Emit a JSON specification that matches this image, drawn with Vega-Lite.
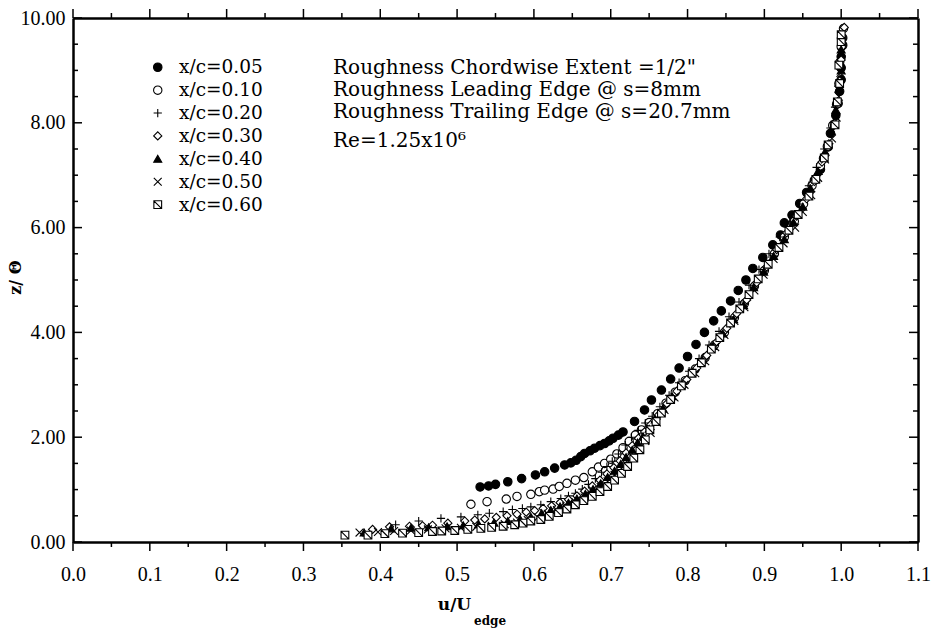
{
  "$schema": "https://vega.github.io/schema/vega-lite/v6.json",
  "autosize": {"type": "none"},
  "padding": {"left": 73, "top": 18, "right": 17, "bottom": 87},
  "width": 845,
  "height": 524,
  "config": {"view": {"stroke": null}, "font": "DejaVu Serif"},
  "datasets": {
    "xmaj": [{"v":0},{"v":0.1},{"v":0.2},{"v":0.3},{"v":0.4},{"v":0.5},{"v":0.6},{"v":0.7},{"v":0.8},{"v":0.9},{"v":1.0},{"v":1.1}],
    "xmin": [{"v":0.05},{"v":0.15},{"v":0.25},{"v":0.35},{"v":0.45},{"v":0.55},{"v":0.65},{"v":0.75},{"v":0.85},{"v":0.95},{"v":1.05}],
    "ymaj": [{"v":0},{"v":2},{"v":4},{"v":6},{"v":8},{"v":10}],
    "ymin": [{"v":0.5},{"v":1},{"v":1.5},{"v":2.5},{"v":3},{"v":3.5},{"v":4.5},{"v":5},{"v":5.5},{"v":6.5},{"v":7},{"v":7.5},{"v":8.5},{"v":9},{"v":9.5}],
    "pts": [
      {"s":"x/c=0.05","u":0.530,"z":1.05},{"s":"x/c=0.05","u":0.541,"z":1.07},{"s":"x/c=0.05","u":0.550,"z":1.10},{"s":"x/c=0.05","u":0.566,"z":1.15},{"s":"x/c=0.05","u":0.584,"z":1.21},{"s":"x/c=0.05","u":0.602,"z":1.28},{"s":"x/c=0.05","u":0.614,"z":1.34},{"s":"x/c=0.05","u":0.627,"z":1.41},{"s":"x/c=0.05","u":0.640,"z":1.47},{"s":"x/c=0.05","u":0.648,"z":1.51},{"s":"x/c=0.05","u":0.655,"z":1.56},{"s":"x/c=0.05","u":0.661,"z":1.63},{"s":"x/c=0.05","u":0.666,"z":1.69},{"s":"x/c=0.05","u":0.673,"z":1.74},{"s":"x/c=0.05","u":0.679,"z":1.79},{"s":"x/c=0.05","u":0.686,"z":1.84},{"s":"x/c=0.05","u":0.692,"z":1.88},{"s":"x/c=0.05","u":0.698,"z":1.93},{"s":"x/c=0.05","u":0.703,"z":1.98},{"s":"x/c=0.05","u":0.710,"z":2.04},{"s":"x/c=0.05","u":0.716,"z":2.10},{"s":"x/c=0.05","u":0.731,"z":2.30},{"s":"x/c=0.05","u":0.744,"z":2.52},{"s":"x/c=0.05","u":0.753,"z":2.71},{"s":"x/c=0.05","u":0.766,"z":2.90},{"s":"x/c=0.05","u":0.778,"z":3.11},{"s":"x/c=0.05","u":0.789,"z":3.32},{"s":"x/c=0.05","u":0.800,"z":3.54},{"s":"x/c=0.05","u":0.811,"z":3.77},{"s":"x/c=0.05","u":0.822,"z":4.00},{"s":"x/c=0.05","u":0.834,"z":4.22},{"s":"x/c=0.05","u":0.844,"z":4.41},{"s":"x/c=0.05","u":0.856,"z":4.60},{"s":"x/c=0.05","u":0.866,"z":4.80},{"s":"x/c=0.05","u":0.876,"z":5.00},{"s":"x/c=0.05","u":0.885,"z":5.22},{"s":"x/c=0.05","u":0.898,"z":5.43},{"s":"x/c=0.05","u":0.911,"z":5.67},{"s":"x/c=0.05","u":0.921,"z":5.86},{"s":"x/c=0.05","u":0.926,"z":6.09},{"s":"x/c=0.05","u":0.936,"z":6.24},{"s":"x/c=0.05","u":0.946,"z":6.46},{"s":"x/c=0.05","u":0.955,"z":6.67},{"s":"x/c=0.05","u":0.965,"z":6.90},{"s":"x/c=0.05","u":0.973,"z":7.11},{"s":"x/c=0.05","u":0.977,"z":7.32},{"s":"x/c=0.05","u":0.983,"z":7.54},{"s":"x/c=0.05","u":0.986,"z":7.80},{"s":"x/c=0.05","u":0.993,"z":8.14},{"s":"x/c=0.05","u":0.996,"z":8.37},{"s":"x/c=0.05","u":0.998,"z":8.60},{"s":"x/c=0.05","u":1.000,"z":8.82},{"s":"x/c=0.05","u":1.000,"z":9.05},{"s":"x/c=0.05","u":1.000,"z":9.26},{"s":"x/c=0.05","u":1.002,"z":9.48},{"s":"x/c=0.05","u":1.002,"z":9.62},

      {"s":"x/c=0.10","u":0.518,"z":0.72},{"s":"x/c=0.10","u":0.539,"z":0.77},{"s":"x/c=0.10","u":0.564,"z":0.82},{"s":"x/c=0.10","u":0.578,"z":0.87},{"s":"x/c=0.10","u":0.596,"z":0.91},{"s":"x/c=0.10","u":0.607,"z":0.96},{"s":"x/c=0.10","u":0.614,"z":0.99},{"s":"x/c=0.10","u":0.625,"z":1.01},{"s":"x/c=0.10","u":0.633,"z":1.06},{"s":"x/c=0.10","u":0.643,"z":1.12},{"s":"x/c=0.10","u":0.654,"z":1.18},{"s":"x/c=0.10","u":0.665,"z":1.23},{"s":"x/c=0.10","u":0.676,"z":1.34},{"s":"x/c=0.10","u":0.684,"z":1.43},{"s":"x/c=0.10","u":0.692,"z":1.50},{"s":"x/c=0.10","u":0.700,"z":1.58},{"s":"x/c=0.10","u":0.708,"z":1.68},{"s":"x/c=0.10","u":0.716,"z":1.80},{"s":"x/c=0.10","u":0.724,"z":1.92},{"s":"x/c=0.10","u":0.732,"z":2.04},{"s":"x/c=0.10","u":0.740,"z":2.14},{"s":"x/c=0.10","u":0.750,"z":2.28},{"s":"x/c=0.10","u":0.761,"z":2.45},{"s":"x/c=0.10","u":0.772,"z":2.65},{"s":"x/c=0.10","u":0.784,"z":2.86},{"s":"x/c=0.10","u":0.797,"z":3.08},{"s":"x/c=0.10","u":0.810,"z":3.30},{"s":"x/c=0.10","u":0.823,"z":3.52},{"s":"x/c=0.10","u":0.835,"z":3.76},{"s":"x/c=0.10","u":0.848,"z":4.00},{"s":"x/c=0.10","u":0.861,"z":4.28},{"s":"x/c=0.10","u":0.874,"z":4.55},{"s":"x/c=0.10","u":0.887,"z":4.88},{"s":"x/c=0.10","u":0.900,"z":5.18},{"s":"x/c=0.10","u":0.913,"z":5.50},{"s":"x/c=0.10","u":0.926,"z":5.82},{"s":"x/c=0.10","u":0.939,"z":6.12},{"s":"x/c=0.10","u":0.951,"z":6.45},{"s":"x/c=0.10","u":0.962,"z":6.80},{"s":"x/c=0.10","u":0.973,"z":7.18},{"s":"x/c=0.10","u":0.982,"z":7.55},{"s":"x/c=0.10","u":0.989,"z":7.95},{"s":"x/c=0.10","u":0.994,"z":8.35},{"s":"x/c=0.10","u":0.997,"z":8.75},{"s":"x/c=0.10","u":0.998,"z":9.15},{"s":"x/c=0.10","u":1.000,"z":9.45},{"s":"x/c=0.10","u":1.003,"z":9.80},

      {"s":"x/c=0.20","u":0.420,"z":0.33},{"s":"x/c=0.20","u":0.450,"z":0.40},{"s":"x/c=0.20","u":0.479,"z":0.45},{"s":"x/c=0.20","u":0.505,"z":0.48},{"s":"x/c=0.20","u":0.527,"z":0.52},{"s":"x/c=0.20","u":0.542,"z":0.55},{"s":"x/c=0.20","u":0.560,"z":0.58},{"s":"x/c=0.20","u":0.572,"z":0.62},{"s":"x/c=0.20","u":0.585,"z":0.64},{"s":"x/c=0.20","u":0.596,"z":0.67},{"s":"x/c=0.20","u":0.609,"z":0.71},{"s":"x/c=0.20","u":0.622,"z":0.77},{"s":"x/c=0.20","u":0.635,"z":0.83},{"s":"x/c=0.20","u":0.645,"z":0.88},{"s":"x/c=0.20","u":0.654,"z":0.93},{"s":"x/c=0.20","u":0.663,"z":1.01},{"s":"x/c=0.20","u":0.671,"z":1.10},{"s":"x/c=0.20","u":0.680,"z":1.21},{"s":"x/c=0.20","u":0.688,"z":1.33},{"s":"x/c=0.20","u":0.695,"z":1.44},{"s":"x/c=0.20","u":0.702,"z":1.54},{"s":"x/c=0.20","u":0.710,"z":1.68},{"s":"x/c=0.20","u":0.719,"z":1.85},{"s":"x/c=0.20","u":0.727,"z":2.00},{"s":"x/c=0.20","u":0.736,"z":2.13},{"s":"x/c=0.20","u":0.745,"z":2.27},{"s":"x/c=0.20","u":0.754,"z":2.40},{"s":"x/c=0.20","u":0.764,"z":2.58},{"s":"x/c=0.20","u":0.776,"z":2.80},{"s":"x/c=0.20","u":0.789,"z":3.04},{"s":"x/c=0.20","u":0.802,"z":3.26},{"s":"x/c=0.20","u":0.815,"z":3.50},{"s":"x/c=0.20","u":0.828,"z":3.76},{"s":"x/c=0.20","u":0.841,"z":4.02},{"s":"x/c=0.20","u":0.854,"z":4.30},{"s":"x/c=0.20","u":0.867,"z":4.58},{"s":"x/c=0.20","u":0.880,"z":4.90},{"s":"x/c=0.20","u":0.893,"z":5.20},{"s":"x/c=0.20","u":0.906,"z":5.50},{"s":"x/c=0.20","u":0.920,"z":5.82},{"s":"x/c=0.20","u":0.933,"z":6.12},{"s":"x/c=0.20","u":0.946,"z":6.45},{"s":"x/c=0.20","u":0.958,"z":6.80},{"s":"x/c=0.20","u":0.968,"z":7.15},{"s":"x/c=0.20","u":0.978,"z":7.50},{"s":"x/c=0.20","u":0.986,"z":7.90},{"s":"x/c=0.20","u":0.992,"z":8.30},{"s":"x/c=0.20","u":0.996,"z":8.70},{"s":"x/c=0.20","u":0.999,"z":9.10},{"s":"x/c=0.20","u":1.000,"z":9.50},

      {"s":"x/c=0.30","u":0.390,"z":0.24},{"s":"x/c=0.30","u":0.412,"z":0.29},{"s":"x/c=0.30","u":0.438,"z":0.30},{"s":"x/c=0.30","u":0.455,"z":0.31},{"s":"x/c=0.30","u":0.468,"z":0.32},{"s":"x/c=0.30","u":0.488,"z":0.36},{"s":"x/c=0.30","u":0.510,"z":0.40},{"s":"x/c=0.30","u":0.523,"z":0.42},{"s":"x/c=0.30","u":0.536,"z":0.44},{"s":"x/c=0.30","u":0.551,"z":0.47},{"s":"x/c=0.30","u":0.565,"z":0.50},{"s":"x/c=0.30","u":0.578,"z":0.53},{"s":"x/c=0.30","u":0.590,"z":0.57},{"s":"x/c=0.30","u":0.601,"z":0.60},{"s":"x/c=0.30","u":0.612,"z":0.64},{"s":"x/c=0.30","u":0.623,"z":0.69},{"s":"x/c=0.30","u":0.634,"z":0.75},{"s":"x/c=0.30","u":0.645,"z":0.81},{"s":"x/c=0.30","u":0.656,"z":0.88},{"s":"x/c=0.30","u":0.666,"z":0.97},{"s":"x/c=0.30","u":0.676,"z":1.07},{"s":"x/c=0.30","u":0.686,"z":1.18},{"s":"x/c=0.30","u":0.695,"z":1.30},{"s":"x/c=0.30","u":0.704,"z":1.42},{"s":"x/c=0.30","u":0.712,"z":1.55},{"s":"x/c=0.30","u":0.720,"z":1.70},{"s":"x/c=0.30","u":0.728,"z":1.84},{"s":"x/c=0.30","u":0.736,"z":1.98},{"s":"x/c=0.30","u":0.744,"z":2.10},{"s":"x/c=0.30","u":0.752,"z":2.24},{"s":"x/c=0.30","u":0.762,"z":2.42},{"s":"x/c=0.30","u":0.773,"z":2.64},{"s":"x/c=0.30","u":0.786,"z":2.88},{"s":"x/c=0.30","u":0.799,"z":3.10},{"s":"x/c=0.30","u":0.812,"z":3.32},{"s":"x/c=0.30","u":0.825,"z":3.56},{"s":"x/c=0.30","u":0.838,"z":3.82},{"s":"x/c=0.30","u":0.851,"z":4.08},{"s":"x/c=0.30","u":0.864,"z":4.36},{"s":"x/c=0.30","u":0.877,"z":4.62},{"s":"x/c=0.30","u":0.890,"z":4.95},{"s":"x/c=0.30","u":0.903,"z":5.25},{"s":"x/c=0.30","u":0.916,"z":5.58},{"s":"x/c=0.30","u":0.929,"z":5.90},{"s":"x/c=0.30","u":0.942,"z":6.22},{"s":"x/c=0.30","u":0.955,"z":6.55},{"s":"x/c=0.30","u":0.965,"z":6.88},{"s":"x/c=0.30","u":0.975,"z":7.25},{"s":"x/c=0.30","u":0.984,"z":7.60},{"s":"x/c=0.30","u":0.991,"z":8.00},{"s":"x/c=0.30","u":0.995,"z":8.40},{"s":"x/c=0.30","u":0.998,"z":8.80},{"s":"x/c=0.30","u":1.000,"z":9.20},{"s":"x/c=0.30","u":1.004,"z":9.82},

      {"s":"x/c=0.40","u":0.379,"z":0.18},{"s":"x/c=0.40","u":0.414,"z":0.26},{"s":"x/c=0.40","u":0.440,"z":0.27},{"s":"x/c=0.40","u":0.463,"z":0.28},{"s":"x/c=0.40","u":0.487,"z":0.30},{"s":"x/c=0.40","u":0.508,"z":0.32},{"s":"x/c=0.40","u":0.528,"z":0.34},{"s":"x/c=0.40","u":0.548,"z":0.37},{"s":"x/c=0.40","u":0.566,"z":0.40},{"s":"x/c=0.40","u":0.582,"z":0.44},{"s":"x/c=0.40","u":0.596,"z":0.48},{"s":"x/c=0.40","u":0.610,"z":0.55},{"s":"x/c=0.40","u":0.622,"z":0.61},{"s":"x/c=0.40","u":0.634,"z":0.68},{"s":"x/c=0.40","u":0.645,"z":0.75},{"s":"x/c=0.40","u":0.656,"z":0.83},{"s":"x/c=0.40","u":0.667,"z":0.92},{"s":"x/c=0.40","u":0.677,"z":1.01},{"s":"x/c=0.40","u":0.687,"z":1.12},{"s":"x/c=0.40","u":0.696,"z":1.24},{"s":"x/c=0.40","u":0.705,"z":1.36},{"s":"x/c=0.40","u":0.713,"z":1.49},{"s":"x/c=0.40","u":0.720,"z":1.62},{"s":"x/c=0.40","u":0.728,"z":1.76},{"s":"x/c=0.40","u":0.735,"z":1.90},{"s":"x/c=0.40","u":0.742,"z":2.02},{"s":"x/c=0.40","u":0.750,"z":2.16},{"s":"x/c=0.40","u":0.758,"z":2.34},{"s":"x/c=0.40","u":0.768,"z":2.55},{"s":"x/c=0.40","u":0.780,"z":2.78},{"s":"x/c=0.40","u":0.793,"z":3.02},{"s":"x/c=0.40","u":0.806,"z":3.25},{"s":"x/c=0.40","u":0.819,"z":3.48},{"s":"x/c=0.40","u":0.833,"z":3.74},{"s":"x/c=0.40","u":0.846,"z":3.98},{"s":"x/c=0.40","u":0.860,"z":4.25},{"s":"x/c=0.40","u":0.873,"z":4.52},{"s":"x/c=0.40","u":0.886,"z":4.86},{"s":"x/c=0.40","u":0.899,"z":5.16},{"s":"x/c=0.40","u":0.912,"z":5.46},{"s":"x/c=0.40","u":0.926,"z":5.78},{"s":"x/c=0.40","u":0.938,"z":6.10},{"s":"x/c=0.40","u":0.950,"z":6.40},{"s":"x/c=0.40","u":0.960,"z":6.75},{"s":"x/c=0.40","u":0.970,"z":7.08},{"s":"x/c=0.40","u":0.979,"z":7.45},{"s":"x/c=0.40","u":0.987,"z":7.85},{"s":"x/c=0.40","u":0.993,"z":8.25},{"s":"x/c=0.40","u":0.997,"z":8.65},{"s":"x/c=0.40","u":1.000,"z":9.00},{"s":"x/c=0.40","u":1.000,"z":9.40},

      {"s":"x/c=0.50","u":0.373,"z":0.18},{"s":"x/c=0.50","u":0.397,"z":0.19},{"s":"x/c=0.50","u":0.418,"z":0.21},{"s":"x/c=0.50","u":0.440,"z":0.22},{"s":"x/c=0.50","u":0.462,"z":0.24},{"s":"x/c=0.50","u":0.485,"z":0.26},{"s":"x/c=0.50","u":0.505,"z":0.27},{"s":"x/c=0.50","u":0.525,"z":0.29},{"s":"x/c=0.50","u":0.545,"z":0.31},{"s":"x/c=0.50","u":0.562,"z":0.34},{"s":"x/c=0.50","u":0.578,"z":0.37},{"s":"x/c=0.50","u":0.592,"z":0.42},{"s":"x/c=0.50","u":0.605,"z":0.47},{"s":"x/c=0.50","u":0.618,"z":0.54},{"s":"x/c=0.50","u":0.630,"z":0.61},{"s":"x/c=0.50","u":0.642,"z":0.68},{"s":"x/c=0.50","u":0.654,"z":0.76},{"s":"x/c=0.50","u":0.666,"z":0.85},{"s":"x/c=0.50","u":0.677,"z":0.95},{"s":"x/c=0.50","u":0.687,"z":1.05},{"s":"x/c=0.50","u":0.696,"z":1.16},{"s":"x/c=0.50","u":0.705,"z":1.28},{"s":"x/c=0.50","u":0.714,"z":1.40},{"s":"x/c=0.50","u":0.722,"z":1.52},{"s":"x/c=0.50","u":0.730,"z":1.66},{"s":"x/c=0.50","u":0.738,"z":1.80},{"s":"x/c=0.50","u":0.745,"z":1.93},{"s":"x/c=0.50","u":0.752,"z":2.08},{"s":"x/c=0.50","u":0.760,"z":2.28},{"s":"x/c=0.50","u":0.770,"z":2.52},{"s":"x/c=0.50","u":0.783,"z":2.76},{"s":"x/c=0.50","u":0.796,"z":3.00},{"s":"x/c=0.50","u":0.810,"z":3.22},{"s":"x/c=0.50","u":0.823,"z":3.45},{"s":"x/c=0.50","u":0.836,"z":3.72},{"s":"x/c=0.50","u":0.848,"z":3.95},{"s":"x/c=0.50","u":0.861,"z":4.22},{"s":"x/c=0.50","u":0.874,"z":4.48},{"s":"x/c=0.50","u":0.887,"z":4.80},{"s":"x/c=0.50","u":0.899,"z":5.10},{"s":"x/c=0.50","u":0.912,"z":5.40},{"s":"x/c=0.50","u":0.925,"z":5.70},{"s":"x/c=0.50","u":0.940,"z":6.00},{"s":"x/c=0.50","u":0.950,"z":6.30},{"s":"x/c=0.50","u":0.961,"z":6.62},{"s":"x/c=0.50","u":0.970,"z":6.95},{"s":"x/c=0.50","u":0.979,"z":7.30},{"s":"x/c=0.50","u":0.988,"z":7.70},{"s":"x/c=0.50","u":0.994,"z":8.10},{"s":"x/c=0.50","u":0.997,"z":8.50},{"s":"x/c=0.50","u":0.999,"z":8.95},{"s":"x/c=0.50","u":1.000,"z":9.35},

      {"s":"x/c=0.60","u":0.354,"z":0.13},{"s":"x/c=0.60","u":0.384,"z":0.13},{"s":"x/c=0.60","u":0.406,"z":0.16},{"s":"x/c=0.60","u":0.429,"z":0.17},{"s":"x/c=0.60","u":0.450,"z":0.18},{"s":"x/c=0.60","u":0.468,"z":0.20},{"s":"x/c=0.60","u":0.480,"z":0.21},{"s":"x/c=0.60","u":0.497,"z":0.22},{"s":"x/c=0.60","u":0.514,"z":0.24},{"s":"x/c=0.60","u":0.531,"z":0.26},{"s":"x/c=0.60","u":0.545,"z":0.28},{"s":"x/c=0.60","u":0.560,"z":0.30},{"s":"x/c=0.60","u":0.575,"z":0.33},{"s":"x/c=0.60","u":0.586,"z":0.36},{"s":"x/c=0.60","u":0.596,"z":0.40},{"s":"x/c=0.60","u":0.609,"z":0.43},{"s":"x/c=0.60","u":0.620,"z":0.49},{"s":"x/c=0.60","u":0.632,"z":0.56},{"s":"x/c=0.60","u":0.643,"z":0.63},{"s":"x/c=0.60","u":0.654,"z":0.71},{"s":"x/c=0.60","u":0.665,"z":0.79},{"s":"x/c=0.60","u":0.676,"z":0.87},{"s":"x/c=0.60","u":0.686,"z":0.96},{"s":"x/c=0.60","u":0.696,"z":1.06},{"s":"x/c=0.60","u":0.705,"z":1.18},{"s":"x/c=0.60","u":0.714,"z":1.31},{"s":"x/c=0.60","u":0.722,"z":1.44},{"s":"x/c=0.60","u":0.730,"z":1.60},{"s":"x/c=0.60","u":0.738,"z":1.76},{"s":"x/c=0.60","u":0.745,"z":1.95},{"s":"x/c=0.60","u":0.751,"z":2.14},{"s":"x/c=0.60","u":0.759,"z":2.30},{"s":"x/c=0.60","u":0.766,"z":2.46},{"s":"x/c=0.60","u":0.778,"z":2.72},{"s":"x/c=0.60","u":0.792,"z":2.98},{"s":"x/c=0.60","u":0.806,"z":3.22},{"s":"x/c=0.60","u":0.818,"z":3.42},{"s":"x/c=0.60","u":0.831,"z":3.68},{"s":"x/c=0.60","u":0.842,"z":3.90},{"s":"x/c=0.60","u":0.856,"z":4.18},{"s":"x/c=0.60","u":0.868,"z":4.45},{"s":"x/c=0.60","u":0.880,"z":4.72},{"s":"x/c=0.60","u":0.892,"z":5.02},{"s":"x/c=0.60","u":0.905,"z":5.30},{"s":"x/c=0.60","u":0.919,"z":5.62},{"s":"x/c=0.60","u":0.932,"z":5.95},{"s":"x/c=0.60","u":0.944,"z":6.25},{"s":"x/c=0.60","u":0.958,"z":6.60},{"s":"x/c=0.60","u":0.967,"z":6.92},{"s":"x/c=0.60","u":0.978,"z":7.33},{"s":"x/c=0.60","u":0.983,"z":7.58},{"s":"x/c=0.60","u":0.992,"z":7.96},{"s":"x/c=0.60","u":0.995,"z":8.40},{"s":"x/c=0.60","u":0.998,"z":8.75},{"s":"x/c=0.60","u":0.997,"z":9.10},{"s":"x/c=0.60","u":1.000,"z":9.55},{"s":"x/c=0.60","u":1.000,"z":9.68}
    ]
  },
  "layer": [
    {
      "data": {"name": "pts"},
      "mark": {"type": "point", "stroke": "black", "strokeWidth": 1.1, "opacity": 1},
      "encoding": {
        "x": {"field": "u", "type": "quantitative",
          "scale": {"domain": [0, 1.1], "nice": false, "zero": false},
          "axis": {
            "orient": "bottom",
            "values": [0,0.1,0.2,0.3,0.4,0.5,0.6,0.7,0.8,0.9,1,1.1],
            "format": ".1f",
            "labelFont": "Liberation Serif", "labelFontSize": 20, "labelColor": "black",
            "labelOverlap": false, "labelFlush": false, "labelPadding": 14,
            "tickSize": 8, "tickOpacity": 0,
            "domainColor": "black", "domainWidth": 2.5, "grid": false,
            "title": "u/U", "titleFont": "DejaVu Serif", "titleFontWeight": "bold", "titleFontSize": 17, "titleColor": "black",
            "titleX": 381, "titleY": 62, "titleAlign": "center", "titleBaseline": "middle", "titleAngle": 0
          }
        },
        "y": {"field": "z", "type": "quantitative",
          "scale": {"domain": [0, 10], "nice": false, "zero": false},
          "axis": {
            "orient": "left",
            "values": [0,2,4,6,8,10],
            "format": ".2f",
            "labelFont": "Liberation Serif", "labelFontSize": 20, "labelColor": "black",
            "labelOverlap": false, "labelFlush": false, "labelPadding": 16,
            "tickSize": -8, "tickOpacity": 0,
            "domainColor": "black", "domainWidth": 2.5, "grid": false,
            "title": "z/ Θ", "titleFont": "DejaVu Serif", "titleFontWeight": "bold", "titleFontSize": 16, "titleColor": "black",
            "titleX": -58, "titleY": 259, "titleAlign": "center", "titleBaseline": "middle", "titleAngle": 270
          }
        },
        "shape": {"field": "s", "type": "nominal",
          "scale": {"domain": ["x/c=0.05","x/c=0.10","x/c=0.20","x/c=0.30","x/c=0.40","x/c=0.50","x/c=0.60"],
                    "range": ["circle","circle","M-1,0H1M0,-1V1","diamond","triangle-up","M-1,-1L1,1M-1,1L1,-1","M-1,-1H1V1H-1ZM-1,-1L1,1"]},
          "legend": {"orient": "none", "legendX": 75.5, "legendY": 40, "title": null, "padding": 0,
                     "labelFont": "DejaVu Serif", "labelFontSize": 18.5, "labelColor": "black", "labelOffset": 12,
                     "rowPadding": 3.9, "symbolStrokeColor": "black", "symbolStrokeWidth": 1.1}
        },
        "fill": {"field": "s", "type": "nominal",
          "scale": {"domain": ["x/c=0.05","x/c=0.10","x/c=0.20","x/c=0.30","x/c=0.40","x/c=0.50","x/c=0.60"],
                    "range": ["black","white","transparent","white","black","transparent","white"]}
        },
        "size": {"field": "s", "type": "nominal",
          "scale": {"domain": ["x/c=0.05","x/c=0.10","x/c=0.20","x/c=0.30","x/c=0.40","x/c=0.50","x/c=0.60"],
                    "range": [72, 60, 64, 36, 50, 44, 60]}
        }
      }
    },
    {
      "data": {"name": "pts"},
      "mark": {"type": "point", "opacity": 0},
      "encoding": {
        "x": {"field": "u", "type": "quantitative",
          "axis": {"orient": "top", "labels": false, "ticks": false, "title": null, "grid": false, "domainColor": "black", "domainWidth": 2.5}
        },
        "y": {"field": "z", "type": "quantitative",
          "axis": {"orient": "right", "labels": false, "ticks": false, "title": null, "grid": false, "domainColor": "black", "domainWidth": 2.5}
        }
      }
    },
    {
      "data": {"name": "xmaj"},
      "mark": {"type": "point", "shape": "M0,0V2", "size": 81, "filled": false, "stroke": "black", "strokeWidth": 1.5, "opacity": 1},
      "encoding": {"x": {"field": "v", "type": "quantitative", "axis": null}, "y": {"datum": 0, "type": "quantitative", "axis": null}}
    },
    {
      "data": {"name": "xmin"},
      "mark": {"type": "point", "shape": "M0,0V2", "size": 25, "filled": false, "stroke": "black", "strokeWidth": 1.5, "opacity": 1},
      "encoding": {"x": {"field": "v", "type": "quantitative", "axis": null}, "y": {"datum": 0, "type": "quantitative", "axis": null}}
    },
    {
      "data": {"name": "xmaj"},
      "mark": {"type": "point", "shape": "M0,0V-2", "size": 81, "filled": false, "stroke": "black", "strokeWidth": 1.5, "opacity": 1},
      "encoding": {"x": {"field": "v", "type": "quantitative", "axis": null}, "y": {"datum": 10, "type": "quantitative", "axis": null}}
    },
    {
      "data": {"name": "xmin"},
      "mark": {"type": "point", "shape": "M0,0V-2", "size": 25, "filled": false, "stroke": "black", "strokeWidth": 1.5, "opacity": 1},
      "encoding": {"x": {"field": "v", "type": "quantitative", "axis": null}, "y": {"datum": 10, "type": "quantitative", "axis": null}}
    },
    {
      "data": {"name": "ymaj"},
      "mark": {"type": "point", "shape": "M0,0H2", "size": 81, "filled": false, "stroke": "black", "strokeWidth": 1.5, "opacity": 1},
      "encoding": {"y": {"field": "v", "type": "quantitative", "axis": null}, "x": {"datum": 0, "type": "quantitative", "axis": null}}
    },
    {
      "data": {"name": "ymin"},
      "mark": {"type": "point", "shape": "M0,0H2", "size": 25, "filled": false, "stroke": "black", "strokeWidth": 1.5, "opacity": 1},
      "encoding": {"y": {"field": "v", "type": "quantitative", "axis": null}, "x": {"datum": 0, "type": "quantitative", "axis": null}}
    },
    {
      "data": {"name": "ymaj"},
      "mark": {"type": "point", "shape": "M0,0H-2", "size": 81, "filled": false, "stroke": "black", "strokeWidth": 1.5, "opacity": 1},
      "encoding": {"y": {"field": "v", "type": "quantitative", "axis": null}, "x": {"datum": 1.1, "type": "quantitative", "axis": null}}
    },
    {
      "data": {"name": "ymin"},
      "mark": {"type": "point", "shape": "M0,0H-2", "size": 25, "filled": false, "stroke": "black", "strokeWidth": 1.5, "opacity": 1},
      "encoding": {"y": {"field": "v", "type": "quantitative", "axis": null}, "x": {"datum": 1.1, "type": "quantitative", "axis": null}}
    },
    {
      "data": {"values": [{}]},
      "mark": {"type": "text", "text": ["Roughness Chordwise Extent =1/2\"", "Roughness Leading Edge @ s=8mm", "Roughness Trailing Edge @ s=20.7mm"],
               "font": "DejaVu Serif", "fontSize": 20, "lineHeight": 22, "align": "left", "baseline": "middle", "color": "black"},
      "encoding": {"x": {"datum": 0.3385, "type": "quantitative", "axis": null}, "y": {"datum": 9.046, "type": "quantitative", "axis": null}}
    },
    {
      "data": {"values": [{}]},
      "mark": {"type": "text", "text": "Re=1.25x10⁶", "font": "DejaVu Serif", "fontSize": 20, "align": "left", "baseline": "middle", "color": "black"},
      "encoding": {"x": {"datum": 0.3385, "type": "quantitative", "axis": null}, "y": {"datum": 7.65, "type": "quantitative", "axis": null}}
    },
    {
      "data": {"values": [{}]},
      "mark": {"type": "text", "text": "edge", "font": "DejaVu Serif", "fontWeight": "bold", "fontSize": 12, "align": "center", "baseline": "middle", "color": "black"},
      "encoding": {"x": {"datum": 0.543, "type": "quantitative", "axis": null}, "y": {"datum": -1.51, "type": "quantitative", "axis": null}}
    }
  ],
  "resolve": {"axis": {"x": "independent", "y": "independent"}}
}
